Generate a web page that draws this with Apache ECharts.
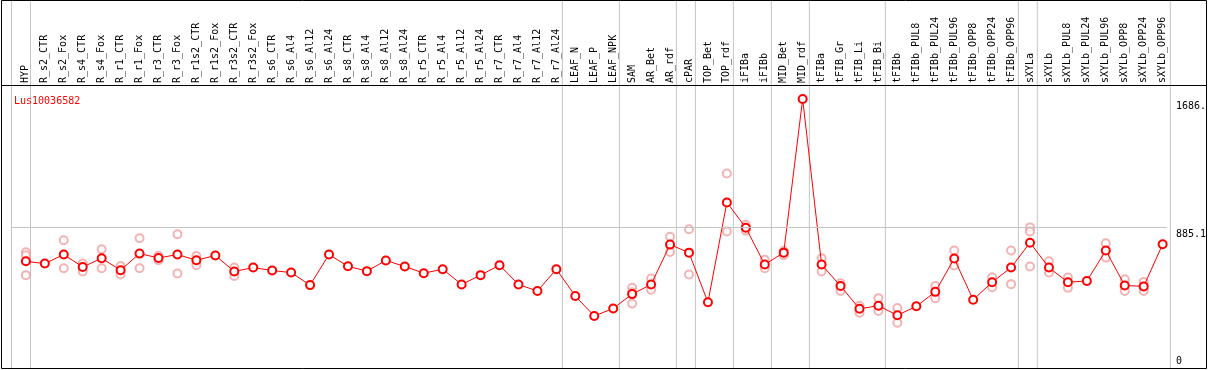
<!DOCTYPE html>
<html>
<head>
<meta charset="utf-8">
<script src="https://cdn.jsdelivr.net/npm/echarts@6/dist/echarts.min.js"></script>
<style>
html,body{margin:0;padding:0;background:#fff;}
#c{width:1209px;height:370px;}
</style>
</head>
<body>
<div id="c"></div>
<script>
const categories = ['HYP','R_s2_CTR','R_s2_Fox','R_s4_CTR','R_s4_Fox','R_r1_CTR','R_r1_Fox','R_r3_CTR','R_r3_Fox','R_r1s2_CTR','R_r1s2_Fox','R_r3s2_CTR','R_r3s2_Fox','R_s6_CTR','R_s6_Al4','R_s6_Al12','R_s6_Al24','R_s8_CTR','R_s8_Al4','R_s8_Al12','R_s8_Al24','R_r5_CTR','R_r5_Al4','R_r5_Al12','R_r5_Al24','R_r7_CTR','R_r7_Al4','R_r7_Al12','R_r7_Al24','LEAF_N','LEAF_P','LEAF_NPK','SAM','AR_Bet','AR_rdf','cPAR','TOP_Bet','TOP_rdf','iFIBa','iFIBb','MID_Bet','MID_rdf','tFIBa','tFIB_Gr','tFIB_Li','tFIB_Bi','tFIBb','tFIBb_PUL8','tFIBb_PUL24','tFIBb_PUL96','tFIBb_OPP8','tFIBb_OPP24','tFIBb_OPP96','sXYLa','sXYLb','sXYLb_PUL8','sXYLb_PUL24','sXYLb_PUL96','sXYLb_OPP8','sXYLb_OPP24','sXYLb_OPP96'];

const means = [676,662,718,641,695,621,724,697,718,683,712,613,637,619,606,528,718,645,615,681,644,602,627,532,590,652,532,491,627,460,336,383,472,532,780,730,421,1042,885,656,730,1686,656,522,381,400,340,396,486,693,437,546,637,792,637,546,554,743,526,520,782];

const replicates = [
  [732,714,590],[],[807,633],[662,613],[751,633],[647,594],[819,633],[711,683],[844,600],[709,652],
  [],[637,585],[],[],[],[],[],[],[],[],
  [],[],[],[],[],[],[],[],[],[],
  [],[],[512,484,413],[569,499],[829,734],[875,594],[],[1222,862],[904,867],[685,633],
  [740,714],[],[695,613],[540,492],[400,356],[447,367],[385,294],[],[522,447],[743,650],
  [],[577,515],[743,534],[887,862,644],[676,606],[575,511],[],[788,699],[565,491],[548,491],
  []
];

// last category index of each group (-1 = left edge)
const groupEnds = [-1,0,28,31,34,35,37,39,41,45,52,53,60];

const yTickValues = [0, 885.1, 1686];
const yTickLabels = ['0', '885.1', '1686.'];
const geneName = 'Lus10036582';

const FONT = 'DejaVu Sans Mono';
const XMIN = -0.785, XMAX = 60.225;
const PAD = 0.5;
const SEP_OFFSET = 0.241;
const YMAX = 1772.7;

const meanData = means.map((v, i) => [i, v]);
const repData = [];
replicates.forEach((arr, i) => arr.forEach(v => repData.push([i, v])));
const sepData = [];
groupEnds.forEach(g => { const x = g + SEP_OFFSET; sepData.push([x, 0], [x, 1], [x, '-']); });
const labelFor = v => yTickLabels[yTickValues.indexOf(v)];

const chart = echarts.init(document.getElementById('c'), null, {renderer: 'canvas'});
const pxPerUnit = 1159 / (XMAX - XMIN);
chart.setOption({
  animation: false,
  backgroundColor: '#fff',
  title: {
    text: geneName, left: 9, top: 91,
    textStyle: {color: '#ff0000', fontSize: 10, fontWeight: 'normal', fontFamily: FONT}
  },
  grid: [
    {left: 11, right: 39, top: 85, height: 286.2},
    {left: 11 - PAD * pxPerUnit, right: 39 - PAD * pxPerUnit, top: 0, height: 368.5, outerBoundsMode: 'none'}
  ],
  xAxis: [
    {gridIndex: 0, type: 'value', min: XMIN, max: XMAX, show: false},
    {gridIndex: 0, type: 'value', position: 'top', min: XMIN, max: XMAX,
     axisLine: {show: false}, axisTick: {show: false}, splitLine: {show: false},
     axisLabel: {
       customValues: categories.map((c, i) => i),
       formatter: v => categories[v],
       rotate: 90, margin: 2, fontSize: 10, fontFamily: FONT, color: '#000'
     }},
    {gridIndex: 1, type: 'value', min: XMIN - PAD, max: XMAX + PAD, show: false}
  ],
  yAxis: [
    {gridIndex: 0, type: 'value', position: 'right', min: 0, max: YMAX,
     axisLine: {show: false}, axisTick: {show: false}, splitLine: {show: false},
     axisLabel: {customValues: yTickValues.slice(1), formatter: labelFor,
       verticalAlign: 'top', align: 'left', margin: 9, padding: [2, 0, 0, 0],
       fontSize: 10, fontFamily: FONT, color: '#000'}},
    {gridIndex: 0, type: 'value', position: 'right', min: 0, max: YMAX,
     axisLine: {show: false}, axisTick: {show: false}, splitLine: {show: false},
     axisLabel: {customValues: yTickValues.slice(0, 1), formatter: labelFor,
       verticalAlign: 'bottom', align: 'left', margin: 9, padding: [0, 0, 4, 0],
       fontSize: 10, fontFamily: FONT, color: '#000'}},
    {gridIndex: 1, type: 'value', min: 0, max: 1, show: false}
  ],
  graphic: [
    {type: 'rect', shape: {x: 1.5, y: 0.5, width: 1205, height: 368}, style: {fill: 'none', stroke: '#000', lineWidth: 1}, z: 100},
    {type: 'line', shape: {x1: 1, y1: 85.5, x2: 1206, y2: 85.5}, style: {stroke: '#000', lineWidth: 1}, z: 100}
  ],
  series: [
    {
      type: 'line', xAxisIndex: 2, yAxisIndex: 2, data: sepData, silent: true, z: 1,
      symbol: 'none', connectNulls: false, clip: false,
      lineStyle: {color: '#c4c4c4', width: 1, type: 'solid'}
    },
    {
      type: 'scatter', xAxisIndex: 0, yAxisIndex: 0, data: repData, z: 3,
      symbol: 'emptyCircle', symbolSize: 8,
      itemStyle: {color: '#f0a0a0', borderColor: '#f0a0a0', borderWidth: 1.2}
    },
    {
      type: 'line', xAxisIndex: 0, yAxisIndex: 0, data: meanData, z: 4,
      symbol: 'emptyCircle', symbolSize: 8,
      lineStyle: {color: '#ff0000', width: 1},
      itemStyle: {color: '#ff0000', borderColor: '#ff0000', borderWidth: 1.3},
      markLine: {
        silent: true, symbol: ['none', 'none'], label: {show: false},
        lineStyle: {color: '#c4c4c4', width: 1, type: 'solid'},
        data: [{yAxis: yTickValues[1]}]
      }
    }
  ]
});
</script>
</body>
</html>
